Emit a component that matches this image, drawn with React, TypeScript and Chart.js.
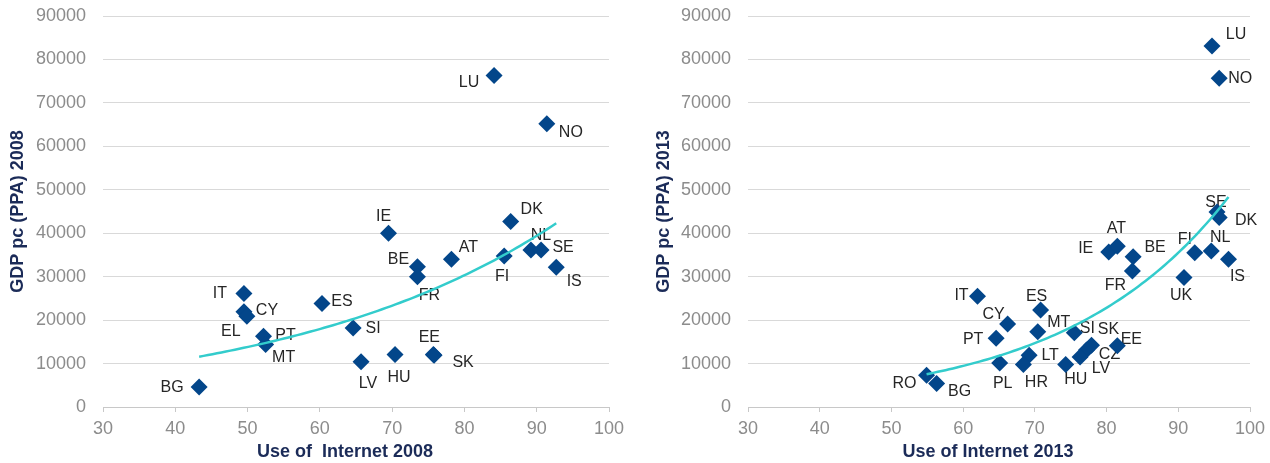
import React, { useEffect, useRef } from "react";
import { Chart, registerables } from "chart.js";

Chart.register(...registerables);

const FONT = "'Liberation Sans', Arial, Helvetica, sans-serif";

// 2008: internet use (% of individuals) vs GDP per capita (PPA)
const countries2008 = ["LU", "NO", "IE", "DK", "NL", "SE", "IS", "FI", "AT", "BE", "FR", "ES", "IT", "CY", "EL", "PT", "MT", "SI", "LV", "HU", "EE", "SK", "BG"];
const internet2008 = [84.1, 91.4, 69.5, 86.4, 89.2, 90.6, 92.7, 85.5, 78.2, 73.5, 73.5, 60.3, 49.5, 49.5, 49.9, 52.2, 52.5, 64.6, 65.7, 70.4, 75.7, 75.8, 43.3];
const gdp2008 = [76300, 65200, 40000, 42700, 36150, 36150, 32150, 34770, 34000, 32300, 30000, 23850, 26150, 21900, 20900, 16300, 14400, 18200, 10400, 12100, 12100, 11900, 4600];

// 2013: internet use (% of individuals) vs GDP per capita (PPA)
const countries2013 = ["LU", "NO", "SE", "DK", "NL", "FI", "IS", "UK", "IE", "AT", "BE", "FR", "IT", "ES", "CY", "MT", "PT", "SI", "SK", "CZ", "LV", "EE", "HU", "LT", "HR", "PL", "RO", "BG"];
const internet2013 = [94.7, 95.7, 95.4, 95.7, 94.6, 92.3, 97.0, 90.8, 80.3, 81.5, 83.7, 83.6, 62.0, 70.8, 66.2, 70.4, 64.6, 75.5, 77.9, 77.2, 76.3, 81.5, 74.3, 69.2, 68.4, 65.1, 54.9, 56.3];
const gdp2013 = [83100, 75700, 44900, 43600, 35900, 35500, 34000, 29800, 35700, 37000, 34600, 31300, 25500, 22300, 19100, 17300, 15800, 17100, 14200, 13100, 11500, 14100, 9800, 11900, 9800, 10100, 7300, 5400];

// Tick values shared by both panels
const xTicks = [30, 40, 50, 60, 70, 80, 90, 100];
const yTicks = [0, 10000, 20000, 30000, 40000, 50000, 60000, 70000, 80000, 90000];

// Country label placement (pixel offset of the label centre from its marker)
const labelOffsets2008: [number, number][] = [
  [-25, 7], [24, 9], [-5, -17], [21, -12], [10, -14], [22, -2], [18, 14], [-2, 21], [17, -12], [-19, -7], [12, 19],
  [20, -2], [-24, 0], [23, -1], [-16, 15], [22, -1], [18, 13], [20, 1], [7, 22], [4, 23], [-4, -17], [29, 7], [-27, 1],
];
const labelOffsets2013: [number, number][] = [
  [24, -11], [21, 0], [-1, -9], [27, 3], [9, -13], [-10, -13], [9, 17], [-3, 18], [-23, -3], [-1, -18], [22, -9], [-17, 15],
  [-16, -1], [-4, -14], [-14, -9], [21, -9], [-23, 1], [13, -4], [17, -16], [23, 5], [21, 12], [14, -6], [10, 15], [21, 0],
  [13, 18], [3, 20], [-22, 8], [23, 8],
];

// Exponential least-squares fit y = exp(a + b x), as a spreadsheet trendline does
function expFit(xs: number[], ys: number[]) {
  const n = xs.length;
  const ly = ys.map((v) => Math.log(v));
  const mx = xs.reduce((s, v) => s + v, 0) / n;
  const my = ly.reduce((s, v) => s + v, 0) / n;
  let sxy = 0;
  let sxx = 0;
  for (let i = 0; i < n; i++) {
    sxy += (xs[i] - mx) * (ly[i] - my);
    sxx += (xs[i] - mx) * (xs[i] - mx);
  }
  const b = sxy / sxx;
  const a = my - b * mx;
  return (x: number) => Math.exp(a + b * x);
}

function trendPoints(xs: number[], ys: number[]) {
  const f = expFit(xs, ys);
  const lo = Math.min(...xs);
  const hi = Math.max(...xs);
  const steps = 80;
  const pts: { x: number; y: number }[] = [];
  for (let i = 0; i <= steps; i++) {
    const x = lo + ((hi - lo) * i) / steps;
    pts.push({ x, y: f(x) });
  }
  return pts;
}

type PanelProps = {
  codes: string[];
  xs: number[];
  ys: number[];
  offsets: [number, number][];
  xTitle: string;
  yTitle: string;
  axisWidth: number;
  padRight: number;
  yTitleX: number;
};

function Panel({ codes, xs, ys, offsets, xTitle, yTitle, axisWidth, padRight, yTitleX }: PanelProps) {
  const ref = useRef<HTMLCanvasElement | null>(null);

  useEffect(() => {
    const canvas = ref.current;
    if (!canvas) return;

    const countryLabels = {
      id: "countryLabels",
      beforeDatasetsDraw(chart: any) {
        const meta = chart.getDatasetMeta(0);
        const ctx = chart.ctx;
        ctx.save();
        ctx.font = `16px ${FONT}`;
        ctx.fillStyle = "#262626";
        ctx.textAlign = "center";
        ctx.textBaseline = "middle";
        meta.data.forEach((el: any, i: number) => {
          const [dx, dy] = offsets[i];
          ctx.fillText(codes[i], el.x + dx, el.y + dy);
        });
        ctx.restore();
      },
    };

    const axisTitles = {
      id: "axisTitles",
      afterDraw(chart: any) {
        const { ctx, chartArea } = chart;
        ctx.save();
        ctx.font = `bold 18px ${FONT}`;
        ctx.fillStyle = "#1b2b58";
        ctx.textAlign = "center";
        ctx.textBaseline = "middle";
        ctx.fillText(xTitle, (chartArea.left + chartArea.right) / 2 - 11, 452);
        ctx.translate(yTitleX, (chartArea.top + chartArea.bottom) / 2);
        ctx.rotate(-Math.PI / 2);
        ctx.fillText(yTitle, 0, 0);
        ctx.restore();
      },
    };

    const chart = new Chart(canvas, {
      type: "scatter",
      data: {
        datasets: [
          {
            label: "countries",
            data: xs.map((x, i) => ({ x, y: ys[i] })),
            pointStyle: "rectRot",
            pointRadius: 8.5,
            pointHoverRadius: 8.5,
            backgroundColor: "#03468a",
            borderColor: "#03468a",
            borderWidth: 0,
            order: 1,
          },
          {
            label: "trend",
            data: trendPoints(xs, ys),
            showLine: true,
            pointRadius: 0,
            borderColor: "#33cccc",
            borderWidth: 2.5,
            tension: 0,
            order: 0,
          },
        ],
      },
      options: {
        responsive: false,
        animation: false,
        devicePixelRatio: 1,
        layout: { padding: { top: 16, right: padRight, left: 0, bottom: 0 } },
        plugins: { legend: { display: false }, tooltip: { enabled: false } },
        scales: {
          x: {
            type: "linear",
            min: 30,
            max: 100,
            afterBuildTicks: (scale: any) => {
              scale.ticks = xTicks.map((v) => ({ value: v }));
            },
            ticks: {
              color: "#8c8c8c",
              font: { size: 18, family: FONT },
              padding: 6,
              callback: (v: number | string) => String(v),
            },
            grid: { drawOnChartArea: false, drawTicks: true, tickLength: 5, color: "#c8c8c8" },
            border: { display: true, color: "#c8c8c8", width: 1 },
            afterFit: (scale: any) => {
              scale.height = 56;
              scale.paddingLeft = 0;
              scale.paddingRight = 0;
            },
          },
          y: {
            type: "linear",
            min: 0,
            max: 90000,
            afterBuildTicks: (scale: any) => {
              scale.ticks = yTicks.map((v) => ({ value: v }));
            },
            ticks: {
              color: "#8c8c8c",
              font: { size: 18, family: FONT },
              padding: 17,
              callback: (v: number | string) => String(v),
            },
            grid: { color: "#d9d9d9", drawTicks: false, lineWidth: 1 },
            border: { display: false },
            afterFit: (scale: any) => {
              scale.width = axisWidth;
              scale.paddingTop = 0;
              scale.paddingBottom = 0;
            },
          },
        },
      } as any,
      plugins: [countryLabels, axisTitles],
    });

    return () => chart.destroy();
  }, []);

  return <canvas ref={ref} width={635} height={463} style={{ display: "block", width: 635, height: 463 }} />;
}

export default function App() {
  return (
    <div style={{ position: "fixed", left: 0, top: 0, width: 1270, height: 463, display: "flex", background: "#ffffff" }}>
      <Panel
        codes={countries2008}
        xs={internet2008}
        ys={gdp2008}
        offsets={labelOffsets2008}
        xTitle="Use of  Internet 2008"
        yTitle="GDP pc (PPA) 2008"
        axisWidth={103}
        padRight={26}
        yTitleX={18}
      />
      <Panel
        codes={countries2013}
        xs={internet2013}
        ys={gdp2013}
        offsets={labelOffsets2013}
        xTitle="Use of Internet 2013"
        yTitle="GDP pc (PPA) 2013"
        axisWidth={113}
        padRight={20}
        yTitleX={29}
      />
    </div>
  );
}
